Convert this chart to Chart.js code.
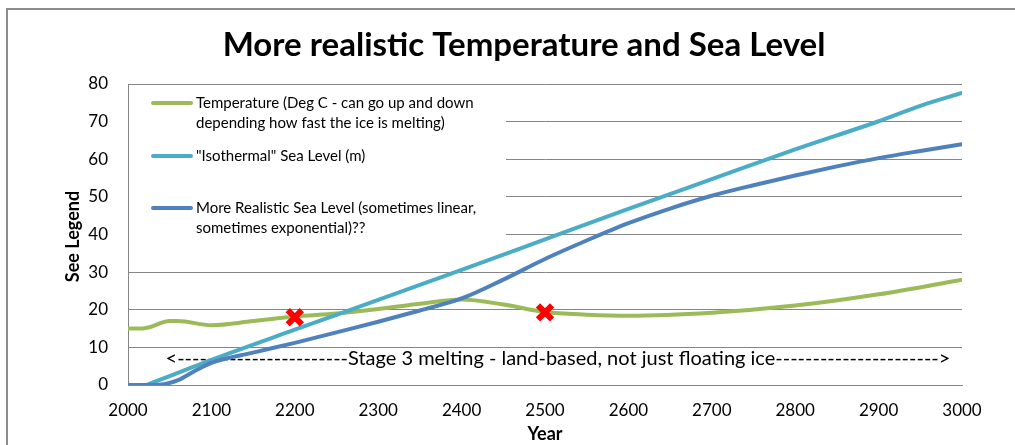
<!DOCTYPE html>
<html>
<head>
<meta charset="utf-8">
<script src="https://cdn.jsdelivr.net/npm/chart.js@4/dist/chart.umd.min.js"></script>
<style>
  html, body { margin: 0; padding: 0; background: #fff; }
  #wrap { width: 1015px; height: 445px; }
</style>
</head>
<body>
<div id="wrap"><canvas id="chart" width="1015" height="445"></canvas></div>
<script>
// ---- chart text ----
const chartTitle = 'More realistic Temperature and Sea Level';
const xAxisTitle = 'Year';
const yAxisTitle = 'See Legend';
const legendLines = [
  ['Temperature (Deg C - can go up and down', 'depending how fast the ice is melting)'],
  ['"Isothermal" Sea Level (m)'],
  ['More Realistic Sea Level (sometimes linear,', 'sometimes exponential)??']
];
const stageNote = '<-----------------------Stage 3 melting - land-based, not just floating ice---------------------->';

// ---- axis ticks ----
const yearTicks = [2000, 2100, 2200, 2300, 2400, 2500, 2600, 2700, 2800, 2900, 3000];
const levelTicks = [0, 10, 20, 30, 40, 50, 60, 70, 80];

// ---- series: temperature (deg C) ----
const tempYears  = [2000, 2020, 2050, 2060, 2100, 2150, 2200, 2250, 2300, 2350, 2400, 2450, 2500, 2550, 2600, 2700, 2800, 2900, 3000];
const tempValues = [15.0, 15.1, 17.0, 17.0, 15.9, 17.0, 18.2, 19.0, 20.2, 21.6, 22.7, 21.4, 19.4, 18.7, 18.4, 19.2, 21.1, 24.1, 28.0];

// ---- series: "isothermal" sea level (m) ----
const isoYears  = [2000, 2020, 2030, 2100, 2200, 2300, 2400, 2500, 2600, 2700, 2800, 2900, 2950, 3000];
const isoValues = [0, 0, 0.7, 6.7, 14.7, 22.6, 30.6, 38.7, 46.8, 54.7, 62.6, 70.1, 74.2, 77.6];

// ---- series: more realistic sea level (m) ----
const realYears  = [2000, 2030, 2045, 2060, 2080, 2100, 2150, 2200, 2250, 2300, 2350, 2400, 2450, 2500, 2550, 2600, 2650, 2700, 2750, 2800, 2850, 2900, 2950, 3000];
const realValues = [0, 0, 0.3, 1.3, 3.7, 5.9, 8.6, 11.2, 14.0, 16.8, 19.8, 23.0, 28.0, 33.5, 38.4, 43.0, 46.9, 50.3, 53.1, 55.7, 58.1, 60.3, 62.2, 64.0];

// ---- red cross markers ----
const markerYears  = [2200, 2500];
const markerValues = [18.0, 19.3];

const FONT = 'Lato, "Liberation Sans", sans-serif';
const toPoints = (xs, ys) => xs.map((x, i) => ({ x: x, y: ys[i] }));

const lineStyle = (color) => ({
  borderColor: color,
  backgroundColor: color,
  borderWidth: 4,
  pointRadius: 0,
  pointHoverRadius: 0,
  fill: false,
  showLine: true,
  cubicInterpolationMode: 'monotone',
  borderCapStyle: 'round',
  borderJoinStyle: 'round'
});

const datasets = [
  Object.assign({ label: legendLines[0].join(' '), data: toPoints(tempYears, tempValues), order: 3 }, lineStyle('#9BBB59')),
  Object.assign({ label: legendLines[1].join(' '), data: toPoints(isoYears, isoValues), order: 2 }, lineStyle('#4BACC6')),
  Object.assign({ label: legendLines[2].join(' '), data: toPoints(realYears, realValues), order: 1 }, lineStyle('#4F81BD')),
  {
    label: 'markers',
    data: toPoints(markerYears, markerValues),
    showLine: false,
    pointStyle: 'crossRot',
    pointRadius: 10,
    pointBorderWidth: 6,
    borderColor: '#FF0000',
    backgroundColor: '#FF0000',
    order: 0
  }
];

// frame, titles, in-plot legend and stage note
const decorations = {
  id: 'decorations',
  beforeDraw(chart) {
    const ctx = chart.ctx;
    ctx.save();
    ctx.fillStyle = '#ffffff';
    ctx.fillRect(0, 0, chart.width, chart.height);
    ctx.strokeStyle = '#8c8c8c';
    ctx.lineWidth = 2;
    ctx.strokeRect(7, 9, chart.width + 20, chart.height + 20);
    ctx.fillStyle = '#000000';
    ctx.font = 'bold 33px ' + FONT;
    ctx.textAlign = 'center';
    ctx.textBaseline = 'middle';
    ctx.fillText(chartTitle, 524, 45);
    ctx.restore();
  },
  beforeDatasetsDraw(chart) {
    const ctx = chart.ctx;
    const xs = chart.scales.x, ys = chart.scales.y;
    ctx.save();
    // vertical axis title
    ctx.save();
    ctx.translate(73, (ys.top + ys.bottom) / 2 + 2);
    ctx.rotate(-Math.PI / 2);
    ctx.font = 'bold 18px ' + FONT;
    ctx.fillStyle = '#000000';
    ctx.textAlign = 'center';
    ctx.textBaseline = 'middle';
    ctx.fillText(yAxisTitle, 0, 0);
    ctx.restore();
    // legend panel
    ctx.fillStyle = '#ffffff';
    ctx.fillRect(xs.left + 1, ys.top + 2, 377, 160);
    const rows = [103, 156, 208];
    ctx.font = '15px ' + FONT;
    ctx.textAlign = 'left';
    ctx.textBaseline = 'middle';
    legendLines.forEach((lines, i) => {
      ctx.strokeStyle = datasets[i].borderColor;
      ctx.lineWidth = 4;
      ctx.lineCap = 'round';
      ctx.beginPath();
      ctx.moveTo(153, rows[i]);
      ctx.lineTo(191, rows[i]);
      ctx.stroke();
      ctx.fillStyle = '#000000';
      lines.forEach((t, j) => ctx.fillText(t, 196, rows[i] + j * 20));
    });
    // stage note across the plot
    ctx.font = '20px ' + FONT;
    ctx.fillStyle = '#000000';
    ctx.fillText(stageNote, xs.getPixelForValue(2045), ys.getPixelForValue(7));
    ctx.restore();
  }
};

new Chart(document.getElementById('chart'), {
  type: 'scatter',
  data: { datasets: datasets },
  plugins: [decorations],
  options: {
    responsive: false,
    animation: false,
    devicePixelRatio: 1,
    layout: { padding: { left: 0, right: 53, top: 84, bottom: 0 } },
    plugins: {
      legend: { display: false },
      title: { display: false },
      tooltip: { enabled: false }
    },
    scales: {
      x: {
        type: 'linear',
        min: yearTicks[0],
        max: yearTicks[yearTicks.length - 1],
        afterBuildTicks(scale) { scale.ticks = yearTicks.map(v => ({ value: v })); },
        afterFit(scale) { scale.height = 60; },
        grid: { display: false, drawTicks: false },
        border: { display: true, color: '#868686', width: 1 },
        ticks: { padding: 15, color: '#000000', font: { family: FONT, size: 17 }, callback: v => String(v) },
        title: { display: true, text: xAxisTitle, color: '#000000', font: { family: FONT, size: 18, weight: 'bold' }, padding: { top: 0, bottom: 0 } }
      },
      y: {
        type: 'linear',
        min: levelTicks[0],
        max: levelTicks[levelTicks.length - 1],
        afterBuildTicks(scale) { scale.ticks = levelTicks.map(v => ({ value: v })); },
        afterFit(scale) { scale.width = 128; },
        grid: { color: '#868686', lineWidth: 1, drawTicks: false },
        border: { display: true, color: '#868686', width: 1 },
        ticks: { padding: 20, color: '#000000', font: { family: FONT, size: 17 }, callback: v => String(v) },
        title: { display: false }
      }
    }
  }
});
</script>
</body>
</html>
